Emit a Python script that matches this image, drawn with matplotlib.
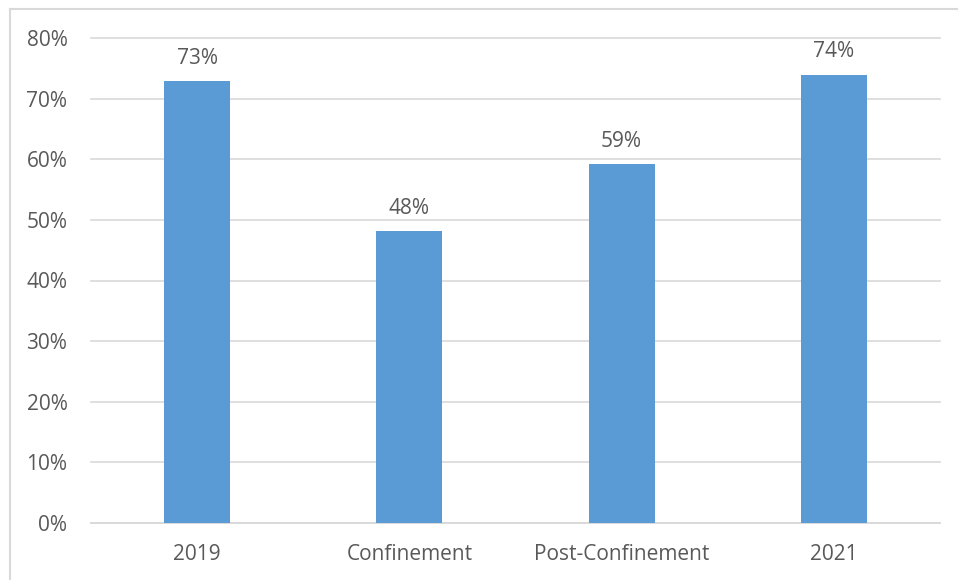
import matplotlib.pyplot as plt
from matplotlib.lines import Line2D

categories = ["2019", "Confinement", "Post-Confinement", "2021"]
values = [72.9, 48.1, 59.2, 73.9]
labels = ["73%", "48%", "59%", "74%"]
yticks = [0, 10, 20, 30, 40, 50, 60, 70, 80]

plt.rcParams["font.family"] = ["Open Sans", "DejaVu Sans"]
text_color = "#595959"
bar_color = "#5B9BD5"
grid_color = "#D9D9D9"

fig = plt.figure(figsize=(9.58, 5.8), dpi=100)
W, H = 958, 580
ax = fig.add_axes([91 / W, 1 - 523 / H, (940 - 91) / W, (523 - 38) / H])

x = range(len(categories))
bars = ax.bar(x, values, width=0.31, color=bar_color, zorder=3)

for b, lab in zip(bars, labels):
    ax.annotate(lab, (b.get_x() + b.get_width() / 2, b.get_height()),
                xytext=(0, 9), textcoords="offset points",
                ha="center", va="bottom", fontsize=15, color=text_color)

ax.set_xlim(-0.5, len(categories) - 0.5)
ax.set_ylim(0, 80)
ax.set_yticks(yticks)
ax.set_yticklabels([f"{t}%" for t in yticks])
ax.set_xticks(list(x))
ax.set_xticklabels(categories)
ax.tick_params(axis="both", length=0, labelsize=15, labelcolor=text_color)
ax.tick_params(axis="y", pad=17)
ax.tick_params(axis="x", pad=15)
ax.grid(axis="y", color=grid_color, linewidth=1.2, zorder=0)
for gl in ax.get_ygridlines():
    gl.set_clip_on(False)
for s in ["top", "right", "left"]:
    ax.spines[s].set_visible(False)
ax.spines["bottom"].set_color(grid_color)
ax.spines["bottom"].set_linewidth(1.2)

# chart area border (only top and left visible in the crop)
fig.add_artist(Line2D([10 / W, 10 / W], [0, 1 - 9 / H], color=grid_color,
                      linewidth=1.5, transform=fig.transFigure))
fig.add_artist(Line2D([10 / W, 1], [1 - 9 / H, 1 - 9 / H], color=grid_color,
                      linewidth=1.5, transform=fig.transFigure))

fig.savefig("out.png", dpi=100)
